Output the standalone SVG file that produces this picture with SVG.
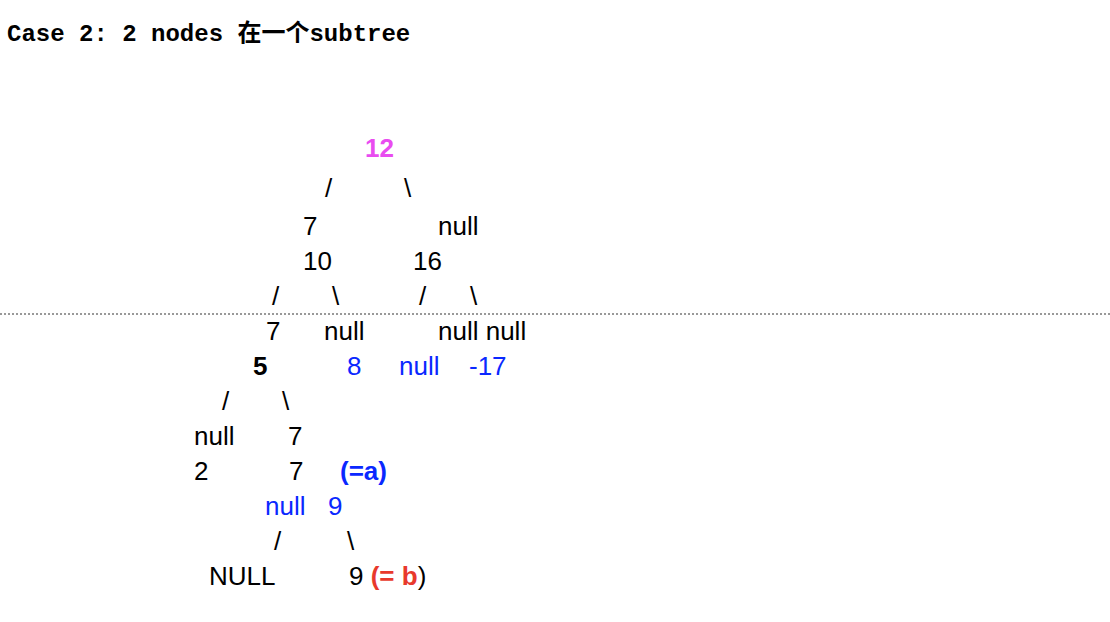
<svg xmlns="http://www.w3.org/2000/svg" width="1110" height="622" viewBox="0 0 1110 622">
<style>
.t{font-family:"Liberation Sans",Arial,sans-serif;font-size:26px;fill:#000}
.b{font-weight:bold}
.blue{fill:#0a28ff}
.red{fill:#e8392c}
.mag{fill:#e94cf0}
.title{font-family:"Liberation Mono","Noto Sans CJK SC",monospace;font-weight:bold;font-size:24px;fill:#000}
.cjk{font-family:"Noto Sans CJK SC",sans-serif}
</style>
<rect width="1110" height="622" fill="#fff"/>
<text class="title" x="7" y="41">Case 2: 2 nodes <tspan class="cjk">在一个</tspan>subtree</text>
<g id="connectors">
<line x1="0" y1="314" x2="1110" y2="314" stroke="#999" stroke-width="2" stroke-dasharray="2,2"/>
<text class="t" x="325" y="197">/</text>
<text class="t" x="404" y="197">\</text>
<text class="t" x="272" y="305">/</text>
<text class="t" x="332" y="305">\</text>
<text class="t" x="419" y="305">/</text>
<text class="t" x="470" y="305">\</text>
<text class="t" x="222" y="410">/</text>
<text class="t" x="282" y="410">\</text>
<text class="t" x="274" y="550">/</text>
<text class="t" x="347" y="550">\</text>
</g>
<g id="n12"><text class="t b mag" x="365" y="157">12</text></g>
<g id="n7a"><text class="t" x="303" y="235">7</text></g>
<g id="nnull1"><text class="t" x="438" y="235">null</text></g>
<g id="n10"><text class="t" x="303" y="270">10</text></g>
<g id="n16"><text class="t" x="413" y="270">16</text></g>
<g id="n7b"><text class="t" x="266" y="340">7</text></g>
<g id="nnull2"><text class="t" x="324" y="340">null</text></g>
<g id="nnull3"><text class="t" x="438" y="340">null null</text></g>
<g id="n5"><text class="t b" x="253" y="375">5</text></g>
<g id="n8"><text class="t blue" x="347" y="375">8</text></g>
<g id="nnull4"><text class="t blue" x="399" y="375">null</text></g>
<g id="nm17"><text class="t blue" x="469" y="375">-17</text></g>
<g id="nnull5"><text class="t" x="194" y="445">null</text></g>
<g id="n7c"><text class="t" x="288" y="445">7</text></g>
<g id="n2"><text class="t" x="194" y="480">2</text></g>
<g id="n7d"><text class="t" x="289" y="480">7</text></g>
<g id="na"><text class="t b blue" x="340" y="480">(=a)</text></g>
<g id="nnull6"><text class="t blue" x="265" y="515">null</text></g>
<g id="n9a"><text class="t blue" x="328" y="515">9</text></g>
<g id="nNULL"><text class="t" x="209" y="585">NULL</text></g>
<g id="n9b"><text class="t" x="349" y="585">9 <tspan class="b red">(= b</tspan>)</text></g>
</svg>
